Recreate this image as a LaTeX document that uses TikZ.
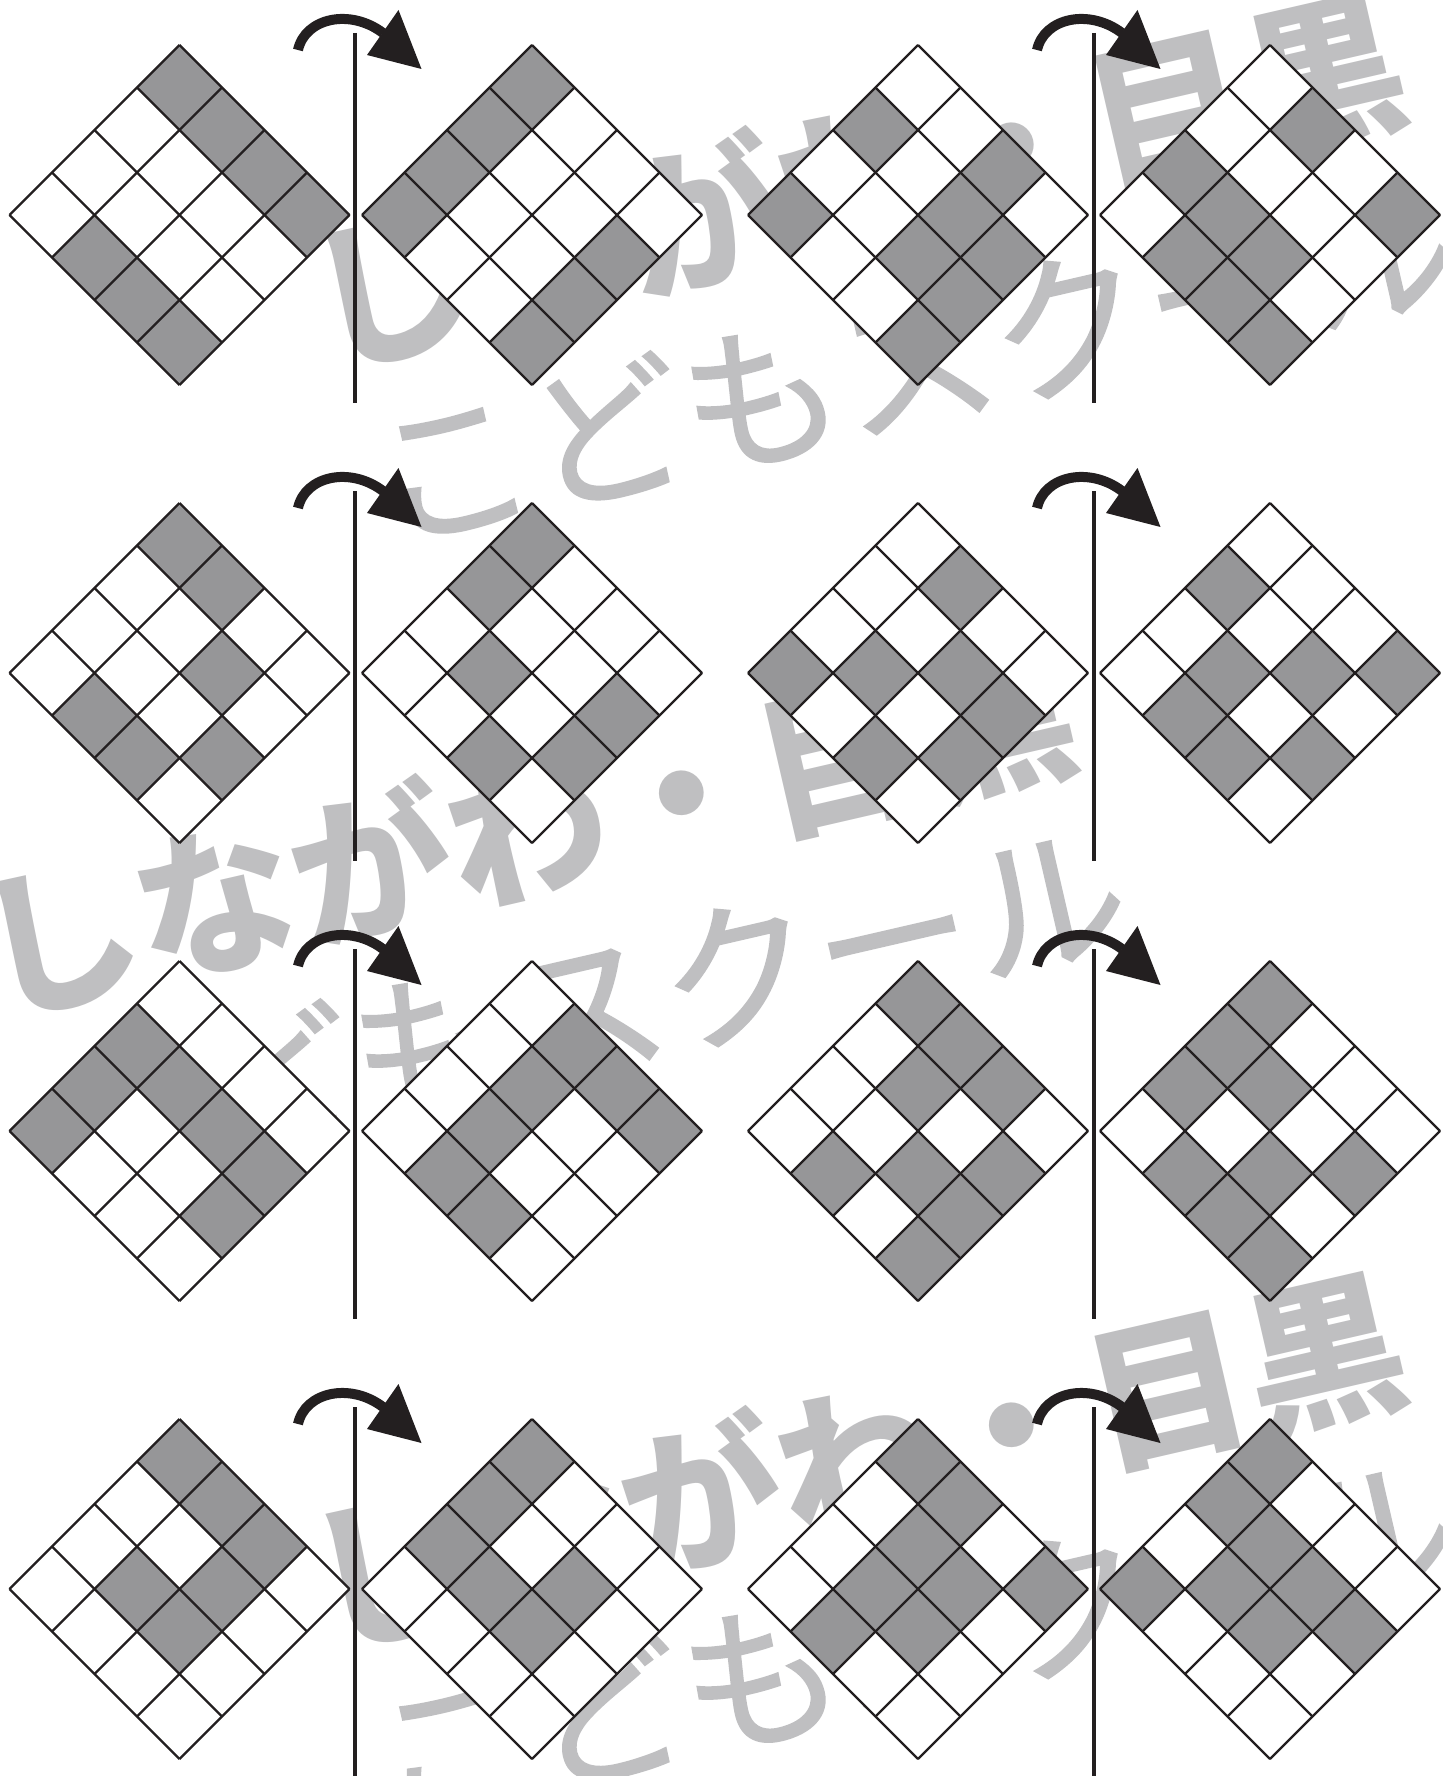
\documentclass[tikz,border=0pt]{standalone}
\usepackage{fontspec}
\newfontfamily\jpfont{Noto Sans CJK JP}
\newfontfamily\jpfontmid{Noto Sans CJK JP}[FakeBold=1.2]
\definecolor{ink}{HTML}{231F20}
\definecolor{cellgray}{RGB}{150,150,152}
\definecolor{wmgray}{RGB}{191,191,193}
\tikzset{
  gridline/.style={draw=ink, line width=1.1pt, line join=miter},
  axisline/.style={draw=ink, line width=2.3pt},
  turnarc/.style={draw=ink, line width=5pt},
  wmone/.style={text=wmgray, font=\jpfont\bfseries\fontsize{80}{82}\selectfont, inner sep=0pt, rotate=13},
  wmtwo/.style={text=wmgray, font=\jpfontmid\fontsize{79}{81}\selectfont, inner sep=0pt, rotate=13},
}
% diamond grid: centre x, centre y, shaded cells a/b
\newcommand\dgrid[3]{%
  \begin{scope}[shift={(#1,#2)}]
    \fill[white] (0,-170) -- (170,0) -- (0,170) -- (-170,0) -- cycle;
    \foreach \a/\b in {#3} {
      \fill[cellgray] ({42.5*(\a-\b)},{-170+42.5*(\a+\b)}) -- ++(42.5,42.5) -- ++(-42.5,42.5) -- ++(-42.5,-42.5) -- cycle;
    }
    \foreach \k in {0,...,4} {
      \draw[gridline] ({-42.5*\k},{-170+42.5*\k}) -- ++(170,170);
      \draw[gridline] ({42.5*\k},{-170+42.5*\k}) -- ++(-170,170);
    }
  \end{scope}}
% axis with turning arrow: axis x, row centre y
\newcommand\flipaxis[2]{%
  \begin{scope}[shift={(#1,#2)}]
    \draw[axisline] (0,-182) -- (0,188);
    \draw[turnarc] (-57,-165) .. controls (-50,-197) and (-5,-207) .. (28,-182);
    \fill[ink] (66.5,-146) -- (43.5,-205) -- (12,-160) -- cycle;
  \end{scope}}
% watermark: centre of first line
\newcommand\wmark[3]{%
  \node[wmone] (#3a) at (#1,#2) {しながわ・目黒};
  \node[wmtwo] (#3b) at ({#1+58},{#2+180}) {こどもスクール};}
\begin{document}
\begin{tikzpicture}[x=0.5pt,y=-0.5pt]
\useasboundingbox (0,0) rectangle (1443,1776);
\begin{scope}
\clip (0,0) rectangle (1443,1776);
\fill[white] (0,0) rectangle (1443,1776);
% watermarks
\wmark{856}{180}{wt}
\wmark{526}{828}{wm}
\wmark{856}{1460}{wb}
% row 1
\dgrid{179.5}{215}{0/0,1/0,2/0,3/0,1/3,2/3,3/3}
\dgrid{532}{215}{0/0,0/1,0/2,0/3,3/1,3/2,3/3}
\dgrid{918}{215}{0/1,0/3,2/0,2/1,2/2,3/1,3/2,3/3}
\dgrid{1270}{215}{1/0,3/0,0/2,1/2,2/2,1/3,2/3,3/3}
% row 2
\dgrid{179.5}{673}{0/0,1/0,2/1,1/3,2/3,3/2}
\dgrid{532}{673}{0/0,0/1,1/2,3/1,3/2,2/3}
\dgrid{918}{673}{1/0,0/3,1/2,2/1,3/1,2/3,3/2}
\dgrid{1270}{673}{0/1,3/0,2/1,1/2,1/3,3/2,2/3}
% row 3
\dgrid{179.5}{1131}{0/1,0/2,1/1,0/3,2/1,3/1,3/2}
\dgrid{532}{1131}{1/0,2/0,1/1,3/0,1/2,1/3,2/3}
\dgrid{918}{1131}{0/0,1/0,1/1,2/0,1/3,2/2,3/1,3/2,3/3}
\dgrid{1270}{1131}{0/0,0/1,1/1,0/2,3/1,2/2,1/3,2/3,3/3}
% row 4
\dgrid{179.5}{1589}{0/0,1/0,2/0,1/2,2/1,2/2}
\dgrid{532}{1589}{0/0,0/1,0/2,2/1,1/2,2/2}
\dgrid{918}{1589}{0/0,1/0,1/1,1/2,2/1,3/0,1/3,2/2}
\dgrid{1270}{1589}{0/0,0/1,1/1,2/1,1/2,0/3,3/1,2/2}
% axes and arrows
\foreach \cy in {215,673,1131,1589} {
  \flipaxis{355}{\cy}
  \flipaxis{1094}{\cy}
}
\end{scope}
\end{tikzpicture}
\end{document}
